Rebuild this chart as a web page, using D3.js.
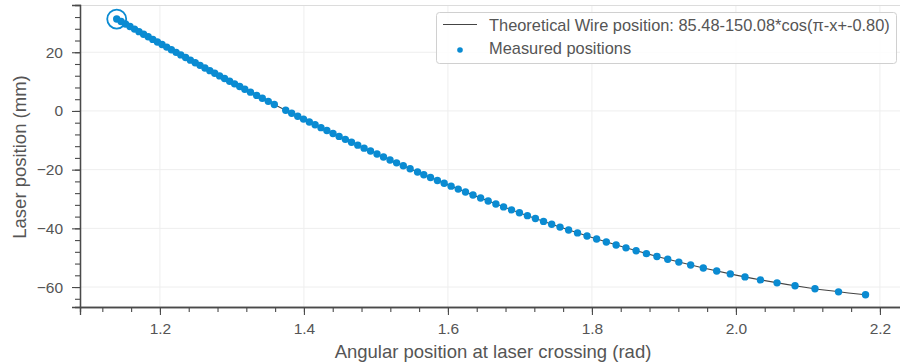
<!DOCTYPE html>
<html>
<head>
<meta charset="utf-8">
<script src="https://cdn.jsdelivr.net/npm/d3@7"></script>
<style>
  html, body { margin: 0; padding: 0; background: #fff; }
  svg { display: block; font-family: "Liberation Sans", Arial, sans-serif; }
</style>
</head>
<body>
<svg id="chart" width="900" height="363"></svg>
<script>
// Measured laser crossing positions: angle (rad) and laser position (mm)
const measuredAngle = [
  1.1400, 1.1461, 1.1522, 1.1584, 1.1647, 1.1709, 1.1773, 1.1837, 1.1901, 1.1965,
  1.2029, 1.2094, 1.2159, 1.2225, 1.2290, 1.2357, 1.2423, 1.2490, 1.2557, 1.2625,
  1.2693, 1.2761, 1.2829, 1.2898, 1.2968, 1.3037, 1.3108, 1.3179, 1.3258, 1.3344,
  1.3422, 1.3505, 1.3589, 1.3747, 1.3830, 1.3914, 1.3994, 1.4075, 1.4155, 1.4237,
  1.4319, 1.4404, 1.4489, 1.4575, 1.4661, 1.4748, 1.4836, 1.4925, 1.5015, 1.5105,
  1.5196, 1.5287, 1.5380, 1.5475, 1.5578, 1.5665, 1.5758, 1.5854, 1.5948, 1.6044,
  1.6143, 1.6244, 1.6348, 1.6454, 1.6559, 1.6666, 1.6773, 1.6883, 1.6993, 1.7104,
  1.7215, 1.7328, 1.7441, 1.7557, 1.7676, 1.7800, 1.7932, 1.8065, 1.8200, 1.8336,
  1.8473, 1.8614, 1.8757, 1.8903, 1.9053, 1.9207, 1.9371, 1.9547, 1.9733, 1.9922,
  2.0126, 2.0341, 2.0571, 2.0821, 2.1098, 2.1425, 2.1800
];
const measuredPos = [
  31.32, 30.47, 29.62, 28.76, 27.88, 27.02, 26.14, 25.26, 24.38, 23.50,
  22.63, 21.75, 20.86, 19.97, 19.10, 18.20, 17.31, 16.42, 15.53, 14.62,
  13.73, 12.83, 11.94, 11.04, 10.13, 9.24, 8.32, 7.41, 6.40, 5.30,
  4.32, 3.27, 2.22, 0.26, -0.77, -1.79, -2.77, -3.75, -4.71, -5.69,
  -6.67, -7.67, -8.67, -9.67, -10.66, -11.66, -12.67, -13.67, -14.68, -15.68,
  -16.69, -17.68, -18.69, -19.71, -20.81, -21.73, -22.70, -23.70, -24.66, -25.63,
  -26.63, -27.63, -28.65, -29.67, -30.68, -31.69, -32.69, -33.70, -34.69, -35.68,
  -36.66, -37.64, -38.60, -39.57, -40.55, -41.55, -42.59, -43.62, -44.64, -45.65,
  -46.64, -47.63, -48.60, -49.57, -50.54, -51.50, -52.49, -53.51, -54.54, -55.53,
  -56.55, -57.56, -58.57, -59.58, -60.59, -61.64, -62.65
];

// Theoretical wire position curve, sampled
const fitAngle = [1.14, 1.20, 1.30, 1.40, 1.50, 1.60, 1.70, 1.80, 1.90, 2.00, 2.10, 2.18];
const fitPos   = [31.32, 23.03, 9.71, -2.84, -14.51, -25.19, -34.75, -43.12, -50.20, -55.93, -60.24, -62.65];

const xTicks = [1.2, 1.4, 1.6, 1.8, 2.0, 2.2];
const yTicks = [-60, -40, -20, 0, 20];
const legendLabels = [
  "Theoretical Wire position: 85.48-150.08*cos(\u03c0-x+-0.80)",
  "Measured positions"
];
const xTitle = "Angular position at laser crossing (rad)";
const yTitle = "Laser position (mm)";

const blue = "#0a8bd2";
const textGrey = "#555";
const svg = d3.select("#chart");
const plotL = 80, plotR = 902, plotT = 5, plotB = 307;

const x = d3.scaleLinear().domain([1.089, 1.089 + (plotR - plotL) / 720]).range([plotL, plotR]);
const y = d3.scaleLinear().domain([-66.8, 36.1]).range([plotB, plotT]);

// grid
const grid = svg.append("g");
grid.selectAll("line.gx").data(xTicks).join("line")
  .attr("x1", d => x(d)).attr("x2", d => x(d)).attr("y1", plotT).attr("y2", plotB)
  .attr("stroke", "#eeeeee").attr("stroke-width", 1);
grid.selectAll("line.gy").data(yTicks).join("line")
  .attr("y1", d => y(d)).attr("y2", d => y(d)).attr("x1", plotL).attr("x2", plotR)
  .attr("stroke", "#eeeeee").attr("stroke-width", 1);

// light top frame line
svg.append("line").attr("x1", plotL).attr("x2", plotR).attr("y1", plotT + 0.5).attr("y2", plotT + 0.5)
  .attr("stroke", "#dcdcdc");

const minorX = d3.range(1.12, 2.23, 0.04).map(v => +v.toFixed(2));
const minorY = d3.range(-64, 36, 4);

const xAxis = d3.axisBottom(x).tickValues(xTicks).tickFormat(d3.format(".1f")).tickSize(8).tickPadding(8);
const xMinor = d3.axisBottom(x).tickValues(minorX).tickFormat("").tickSize(5);
const yAxis = d3.axisLeft(y).tickValues(yTicks).tickFormat(d => d < 0 ? "\u2212" + Math.abs(d) : d).tickSize(8).tickPadding(9);
const yMinor = d3.axisLeft(y).tickValues(minorY).tickFormat("").tickSize(5);

function styleAxis(g) {
  g.select(".domain").attr("stroke", "#4a4a4a").attr("stroke-width", 1.3);
  g.selectAll(".tick line").attr("stroke", "#4a4a4a").attr("stroke-width", 1.1);
  g.selectAll(".tick text").attr("fill", textGrey).attr("font-size", 15.5)
    .attr("font-family", "'Liberation Sans', Arial, sans-serif");
}

svg.append("g").attr("transform", `translate(0,${plotB})`).call(xMinor).call(styleAxis);
svg.append("g").attr("transform", `translate(0,${plotB})`).call(xAxis).call(styleAxis);
svg.append("g").attr("transform", `translate(${plotL},0)`).call(yMinor).call(styleAxis);
svg.append("g").attr("transform", `translate(${plotL},0)`).call(yAxis).call(styleAxis);

// axis titles
svg.append("text").attr("x", 493).attr("y", 358).attr("text-anchor", "middle")
  .attr("fill", textGrey).attr("font-size", 18.5).text(xTitle);
svg.append("text").attr("transform", "translate(26,157) rotate(-90)")
  .attr("text-anchor", "middle").attr("fill", textGrey).attr("font-size", 18.5).text(yTitle);

// theoretical curve
const fitData = fitAngle.map((a, i) => [a, fitPos[i]]);
svg.append("path").datum(fitData)
  .attr("d", d3.line().x(d => x(d[0])).y(d => y(d[1])).curve(d3.curveNatural))
  .attr("fill", "none").attr("stroke", "#444").attr("stroke-width", 1.1);

// measured points
const pts = measuredAngle.map((a, i) => [a, measuredPos[i]]);
svg.append("g").selectAll("circle").data(pts).join("circle")
  .attr("cx", d => x(d[0])).attr("cy", d => y(d[1])).attr("r", 3.7)
  .attr("fill", blue);

// highlight ring on the first measurement
svg.append("circle").attr("cx", x(pts[0][0])).attr("cy", y(pts[0][1])).attr("r", 9.5)
  .attr("fill", "none").attr("stroke", blue).attr("stroke-width", 1.8);

// legend
const lg = svg.append("g").attr("transform", "translate(436,12)");
lg.append("rect").attr("x", 0.5).attr("y", 0.5).attr("width", 460).attr("height", 51).attr("rx", 3)
  .attr("fill", "rgba(255,255,255,0.85)").attr("stroke", "#d0d0d0");
lg.append("line").attr("x1", 7).attr("x2", 41).attr("y1", 12.5).attr("y2", 12.5)
  .attr("stroke", "#444").attr("stroke-width", 1.1);
lg.append("circle").attr("cx", 24).attr("cy", 38).attr("r", 2.8).attr("fill", blue);
lg.selectAll("text").data(legendLabels).join("text")
  .attr("x", 53).attr("y", (d, i) => 18.5 + i * 23)
  .attr("fill", textGrey).attr("font-size", 16.4).text(d => d);
</script>
</body>
</html>
